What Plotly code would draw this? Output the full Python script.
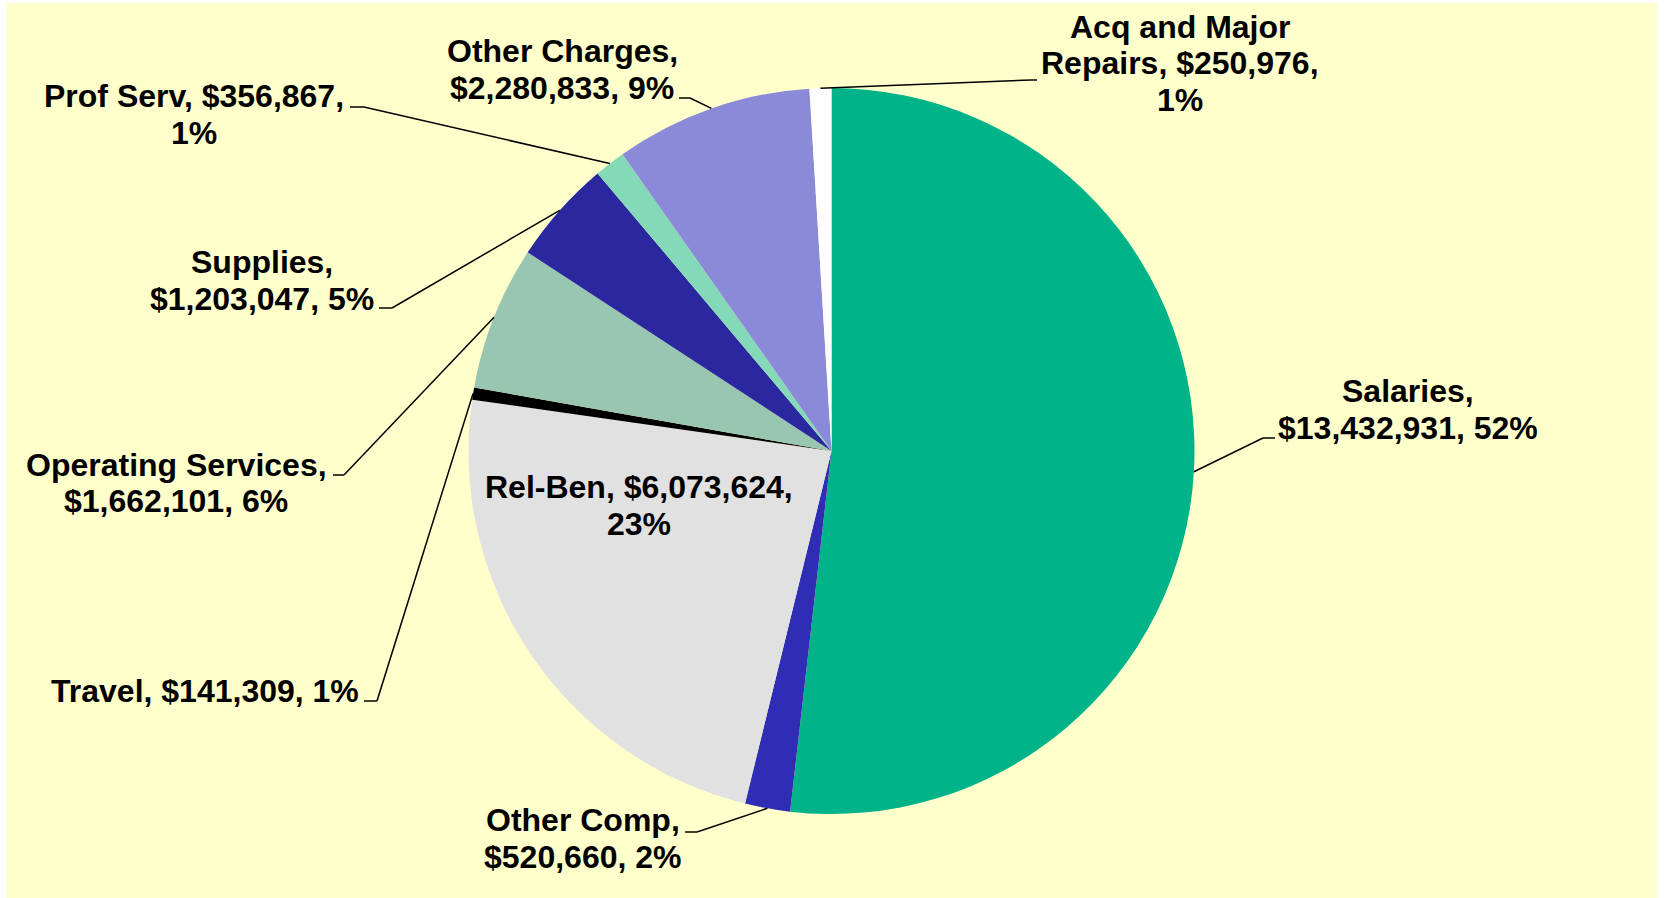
import plotly.graph_objects as go
import math

# ---- data ----
categories = ["Salaries", "Other Comp", "Rel-Ben", "Travel", "Operating Services",
              "Supplies", "Prof Serv", "Other Charges", "Acq and Major Repairs"]
values = [13432931, 520660, 6073624, 141309, 1662101, 1203047, 356867, 2280833, 250976]
colors = ["#00B388", "#2E2DB3", "#E1E1E1", "#000000", "#99C6B1",
          "#2A279F", "#84DAB8", "#8B8AD8", "#FFFFFF"]

# words per label line (layout of label text)
line_breaks = [[1, 2], [2, 2], [2, 1], [3], [2, 2], [1, 2], [3, 1], [2, 2], [3, 2, 1]]

# ---- layout (pixels) ----
W, H = 1665, 898
CX, CY, R = 831.5, 451.0, 363.0
FS = 32
LINE_H = 36.5
TEXT_DY = -1
# label centre x, first line centre y, leader elbow, leader end (None = inside label)
label_pos = [
    (1408, 392, (1263, 438), (1275, 438)),
    (583, 821, (697, 832), (685, 832)),
    (639, 488, None, None),
    (205, 692, (377, 701), (364, 701)),
    (176, 466, (344, 475), (333, 475)),
    (262, 263, (392, 308), (379, 308)),
    (194, 97, (364, 107), (350, 107)),
    (562, 52, (690, 98), (679, 98)),
    (1180, 28, (1031, 80), (1037, 80)),
]


def px(x):
    return x / W


def py(y):
    return 1 - y / H


total = sum(values)

fig = go.Figure(go.Pie(
    labels=categories,
    values=values,
    sort=False,
    direction="clockwise",
    rotation=0,
    marker=dict(colors=colors, line=dict(width=0)),
    textinfo="none",
    hoverinfo="label+value+percent",
    showlegend=False,
    domain=dict(x=[px(CX - R), px(CX + R)], y=[py(CY + R), py(CY - R)]),
))

shapes = [dict(type="rect", xref="paper", yref="paper", x0=px(6), x1=px(1657),
               y0=py(898), y1=py(3), fillcolor="#FFFFCC", line=dict(width=0), layer="below")]
annotations = []

cum = 0
for i, (cat, val) in enumerate(zip(categories, values)):
    pct = round(val / total * 100)
    words = f"{cat}, ${val:,}, {pct}%".split(" ")
    lines = []
    k = 0
    for n in line_breaks[i]:
        lines.append(" ".join(words[k:k + n]))
        k += n
    lx, ly, elbow, end = label_pos[i]
    for j, ln in enumerate(lines):
        annotations.append(dict(
            x=px(lx), y=py(ly + TEXT_DY + j * LINE_H), xref="paper", yref="paper",
            text=f"<b>{ln}</b>", showarrow=False, xanchor="center", yanchor="middle",
            font=dict(family="Liberation Sans, Arial, sans-serif", size=FS, color="#000000"),
        ))
    mid = (cum + val / 2) / total
    cum += val
    if elbow is not None:
        ang = 2 * math.pi * mid
        sx = CX + R * math.sin(ang)
        sy = CY - R * math.cos(ang)
        for (ax, ay), (bx, by) in [((sx, sy), elbow), (elbow, end)]:
            shapes.append(dict(type="line", xref="paper", yref="paper",
                               x0=px(ax), y0=py(ay), x1=px(bx), y1=py(by),
                               line=dict(color="#000000", width=1.5)))

fig.update_layout(
    width=W, height=H,
    margin=dict(l=0, r=0, t=0, b=0),
    paper_bgcolor="#FFFFFF",
    plot_bgcolor="#FFFFFF",
    shapes=shapes,
    annotations=annotations,
)

fig.write_html("out.html", config={"displayModeBar": False},
               post_script="document.body.style.margin='0px';")
